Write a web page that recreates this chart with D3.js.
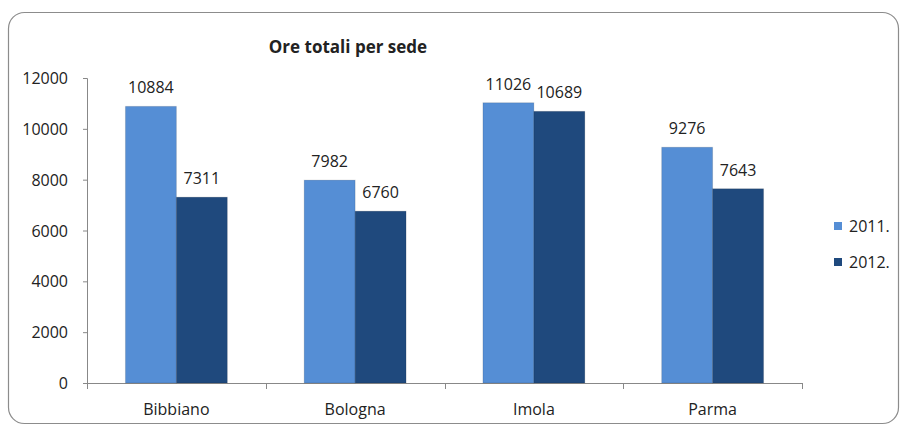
<!DOCTYPE html>
<html>
<head>
<meta charset="utf-8">
<script src="https://cdn.jsdelivr.net/npm/d3@7"></script>
<style>
  body { margin: 0; background: #fff; }
  text { font-family: "Open Sans", "Liberation Sans", sans-serif; fill: #222; }
</style>
</head>
<body>
<div class="chart"></div>
<script>
// chart data
var sedi = ["Bibbiano", "Bologna", "Imola", "Parma"];
var anni = ["2011.", "2012."];
var ore2011 = [10884, 7982, 11026, 9276];
var ore2012 = [7311, 6760, 10689, 7643];
var yTicks = [0, 2000, 4000, 6000, 8000, 10000, 12000];
var colori = ["#558ed5", "#1f497d"];

var width = 903,
    height = 426;

var svg = d3.select(".chart")
  .append("svg")
  .attr("width", width)
  .attr("height", height);

//frame round the chart
svg.append("rect")
  .attr("x", 8.5).attr("y", 12.5)
  .attr("width", 890).attr("height", 411)
  .attr("rx", 16).attr("ry", 16)
  .attr("fill", "none")
  .attr("stroke", "#8c8c8c")
  .attr("stroke-width", 1.2);

var x0 = d3.scaleBand()
  .domain(sedi)
  .range([87, 802])
  .paddingInner(0.43)
  .paddingOuter(0.215);

var x1 = d3.scaleBand()
  .domain(anni)
  .range([0, x0.bandwidth()]);

var y = d3.scaleLinear()
  .domain([0, 12000])
  .range([383, 78]);

// y axis
var yAxis = svg.append("g")
  .attr("transform", "translate(87,0)")
  .call(d3.axisLeft(y).tickValues(yTicks).tickFormat(d3.format("d")).tickSize(4).tickPadding(15));
yAxis.selectAll("text").style("font-size", "16px").attr("dy", "0.35em");

// x axis with ticks between categories
var xTicks = [87, 265.75, 444.5, 623.25, 802];
svg.append("line")
  .attr("x1", 87).attr("x2", 802)
  .attr("y1", 383.5).attr("y2", 383.5)
  .attr("stroke", "#888");
svg.selectAll(".xtick")
  .data(xTicks).enter()
  .append("line")
  .attr("x1", function(d){ return Math.round(d) + 0.5; })
  .attr("x2", function(d){ return Math.round(d) + 0.5; })
  .attr("y1", 383).attr("y2", 389)
  .attr("stroke", "#888");
yAxis.select(".domain").attr("stroke", "#888");
yAxis.selectAll(".tick line").attr("stroke", "#888");

svg.selectAll(".catlabel")
  .data(sedi).enter()
  .append("text")
  .attr("x", function(d){ return x0(d) + x0.bandwidth() / 2; })
  .attr("y", 415)
  .attr("text-anchor", "middle")
  .style("font-size", "16px")
  .text(function(d){ return d; });

// bars
var rows = sedi.map(function(s, i){
  return {sede: s, vals: [{anno: anni[0], v: ore2011[i]}, {anno: anni[1], v: ore2012[i]}]};
});

var gruppi = svg.selectAll(".gruppo")
  .data(rows).enter()
  .append("g")
  .attr("transform", function(d){ return "translate(" + x0(d.sede) + ",0)"; });

gruppi.selectAll("rect")
  .data(function(d){ return d.vals; }).enter()
  .append("rect")
  .attr("x", function(d){ return x1(d.anno); })
  .attr("y", function(d){ return y(d.v); })
  .attr("width", x1.bandwidth())
  .attr("height", function(d){ return y(0) - y(d.v); })
  .attr("fill", function(d, i){ return colori[i]; })
  .attr("stroke", "rgba(0,0,0,0.12)")
  .attr("stroke-width", 1);

gruppi.selectAll(".val")
  .data(function(d){ return d.vals; }).enter()
  .append("text")
  .attr("x", function(d){ return x1(d.anno) + x1.bandwidth() / 2; })
  .attr("y", function(d){ return y(d.v) - 13; })
  .attr("text-anchor", "middle")
  .style("font-size", "16px")
  .text(function(d){ return d.v; });

// title
svg.append("text")
  .attr("x", 348).attr("y", 53)
  .attr("text-anchor", "middle")
  .style("font-size", "17px")
  .style("font-weight", "bold")
  .text("Ore totali per sede");

// legend
var legend = svg.selectAll(".legend")
  .data(anni).enter()
  .append("g")
  .attr("transform", function(d, i){ return "translate(834," + (222 + i * 36) + ")"; });
legend.append("rect")
  .attr("width", 8).attr("height", 8)
  .attr("fill", function(d, i){ return colori[i]; });
legend.append("text")
  .attr("x", 15).attr("y", 10)
  .style("font-size", "16px")
  .text(function(d){ return d; });
</script>
</body>
</html>
